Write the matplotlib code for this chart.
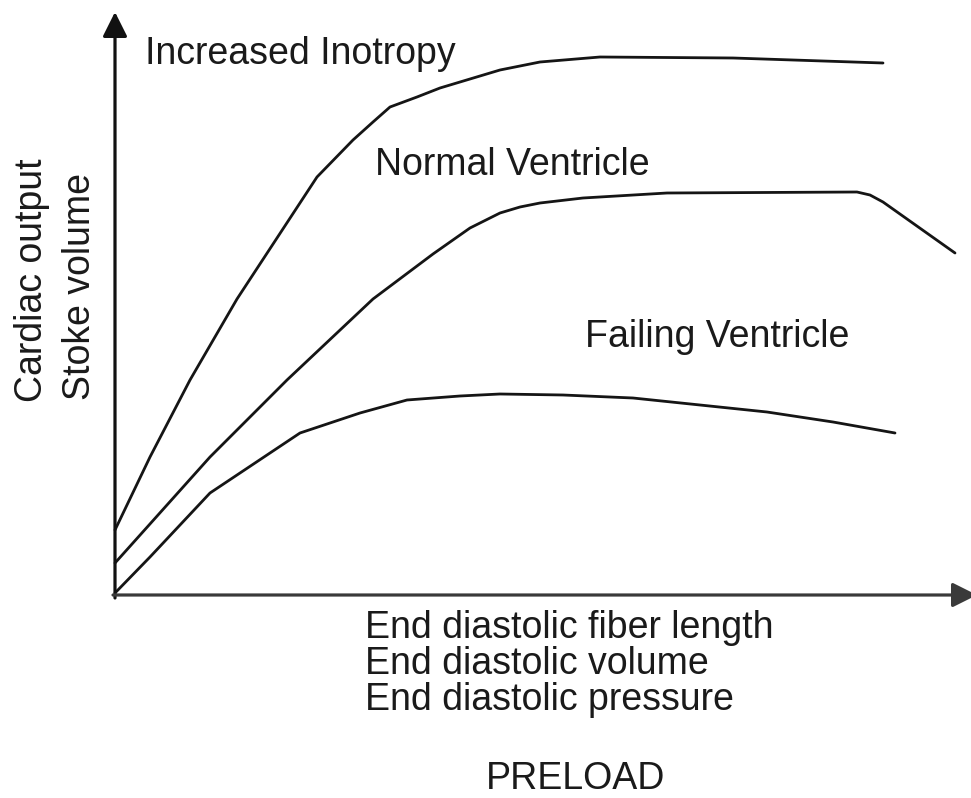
import matplotlib
matplotlib.use("Agg")
import matplotlib.pyplot as plt

# Preload (x) vs output (y), arbitrary units
inotropy_x = [0, 35, 75, 122, 202, 238, 258, 275, 302, 325, 385, 425, 485, 618, 768]
inotropy_y = [65, 138, 215, 296, 418, 455, 473, 488, 498, 507, 525, 533, 538, 537, 532]

normal_x = [0, 95, 172, 258, 318, 355, 385, 405, 425, 468, 552, 742, 755, 768, 840]
normal_y = [32, 138, 215, 296, 341, 367, 382, 388, 392, 397, 402, 403, 400, 393, 342]

failing_x = [0, 35, 95, 185, 245, 292, 345, 385, 448, 518, 585, 652, 718, 780]
failing_y = [2, 38, 102, 162, 182, 195, 199, 201, 200, 197, 190, 183, 173, 162]

curve_labels = ["Increased Inotropy", "Normal Ventricle", "Failing Ventricle"]
x_label_lines = ["End diastolic fiber length", "End diastolic volume", "End diastolic pressure"]
x_label_main = "PRELOAD"
y_label_lines = ["Cardiac output", "Stoke volume"]

plt.rcParams['font.family'] = ['Liberation Sans', 'DejaVu Sans']

fig = plt.figure(figsize=(9.71, 7.98), dpi=100)
ax = fig.add_axes([0, 0, 1, 1])
ax.set_xlim(-115, 856)
ax.set_ylim(-203, 595)
ax.axis('off')

lc = '#151515'
for xs, ys in [(inotropy_x, inotropy_y), (normal_x, normal_y), (failing_x, failing_y)]:
    ax.plot(xs, ys, color=lc, lw=2.0, solid_joinstyle='round', solid_capstyle='round')

# axes arrows
ax.annotate('', xy=(0, 583), xytext=(0, -3), annotation_clip=False,
            arrowprops=dict(arrowstyle='-|>,head_length=0.6,head_width=0.3',
                            mutation_scale=25, lw=2.3, color='#111111',
                            shrinkA=0, shrinkB=0))
ax.annotate('', xy=(862, 0), xytext=(-2, 0), annotation_clip=False,
            arrowprops=dict(arrowstyle='-|>,head_length=0.6,head_width=0.3',
                            mutation_scale=25, lw=2.3, color='#3a3a3a',
                            shrinkA=0, shrinkB=0))

fs = 27
tc = '#1a1a1a'
ax.text(30, 531, curve_labels[0], fontsize=fs, color=tc, ha='left', va='baseline')
ax.text(260, 420, curve_labels[1], fontsize=fs, color=tc, ha='left', va='baseline')
ax.text(470, 248, curve_labels[2], fontsize=fs, color=tc, ha='left', va='baseline')

for i, line in enumerate(x_label_lines):
    ax.text(250, -43 - 36 * i, line, fontsize=fs, color=tc, ha='left', va='baseline')
ax.text(461, -194, x_label_main, fontsize=fs, color=tc, ha='center', va='baseline')

ax.text(-73, 193, y_label_lines[0], fontsize=fs, color=tc, rotation=90,
        rotation_mode='anchor', ha='left', va='baseline')
ax.text(-25, 195, y_label_lines[1], fontsize=fs, color=tc, rotation=90,
        rotation_mode='anchor', ha='left', va='baseline')

fig.savefig('out.png', dpi=100, facecolor='white')
